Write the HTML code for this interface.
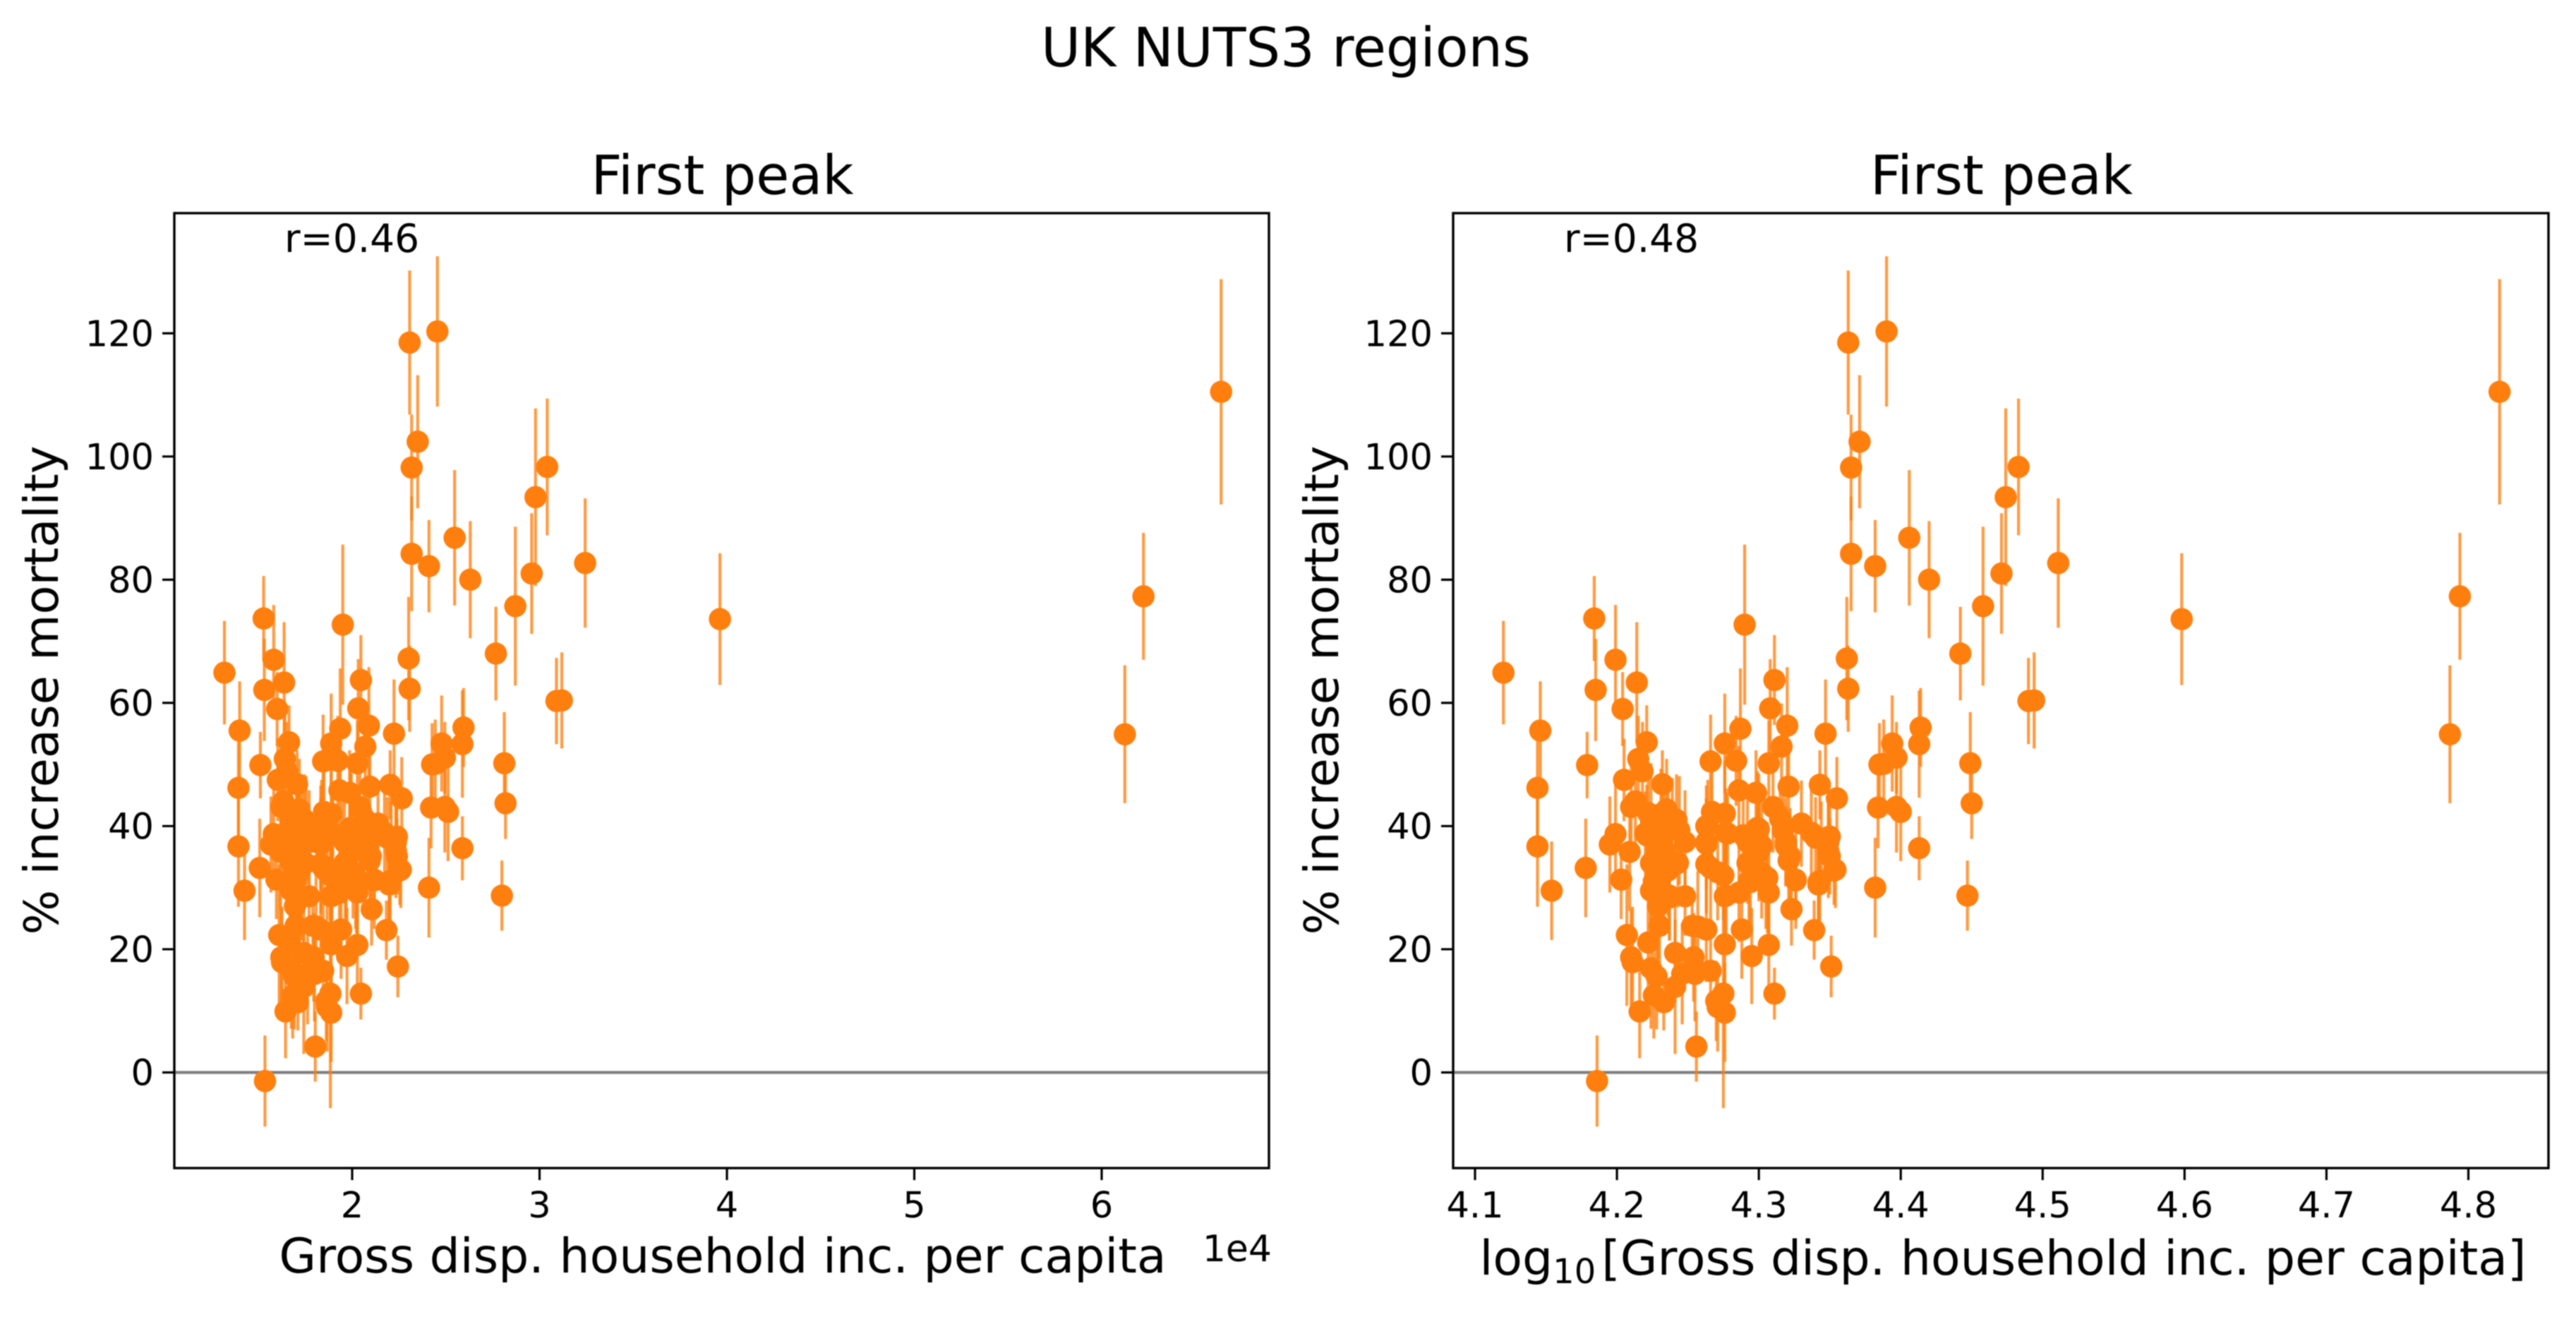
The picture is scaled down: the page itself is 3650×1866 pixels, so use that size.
<!DOCTYPE html>
<html lang="en">
<head>
<meta charset="utf-8">
<title>UK NUTS3 regions</title>
<style>
  html, body { margin: 0; padding: 0; background: #fff; }
  #figure { display: block; width: 3650px; height: 1866px; }
  text { font-family: "DejaVu Sans", "Liberation Sans", sans-serif; fill: #000; }
  .soft { filter: blur(0.9px); }
</style>
</head>
<body>
<svg id="figure" xmlns="http://www.w3.org/2000/svg" width="3650" height="1866" viewBox="0 0 3650 1866">
  <rect x="0" y="0" width="3650" height="1866" fill="#ffffff"/>
  <g class="soft">
    <text x="1822" y="94" font-size="76.5" text-anchor="middle">UK NUTS3 regions</text>
    <g id="panel-left"></g>
    <g id="panel-right"></g>
    <text x="1024" y="1803" font-size="68" text-anchor="middle">Gross disp. household inc. per capita</text>
    <text x="1802" y="1787" font-size="52" text-anchor="end">1e4</text>
    <text x="2838" y="1806" font-size="68" text-anchor="middle">log<tspan font-size="48" dy="12">10</tspan><tspan dy="-12" dx="8">[Gross disp. household inc. per capita]</tspan></text>
  </g>
</svg>
<script>
// Log10 of gross disposable household income per capita
const logIncome = [
  4.120,4.184,4.199,4.185,4.214,4.204,4.146,4.144,4.179,4.221,
  4.215,4.218,4.232,4.205,4.290,4.311,4.308,4.287,4.320,4.316,
  4.266,4.276,4.284,4.307,4.286,4.298,4.321,4.310,4.330,4.267,
  4.264,4.276,4.277,4.300,4.289,4.199,4.195,4.209,4.144,4.154,
  4.178,4.203,4.207,4.210,4.211,4.222,4.224,4.228,4.233,4.226,
  4.216,4.186,4.256,4.230,4.241,4.254,4.241,4.246,4.255,4.266,
  4.257,4.263,4.253,4.276,4.288,4.295,4.307,4.311,4.275,4.270,
  4.271,4.276,4.323,4.339,4.326,4.307,4.305,4.276,4.286,4.294,
  4.266,4.275,4.224,4.237,4.248,4.231,4.229,4.236,4.248,4.263,
  4.263,4.221,4.233,4.239,4.224,4.236,4.244,4.292,4.299,4.300,
  4.292,4.302,4.319,4.322,4.317,4.340,4.342,4.353,4.350,4.349,
  4.351,4.342,4.337,4.344,4.382,4.447,4.413,4.420,4.382,4.471,
  4.511,4.458,4.442,4.362,4.363,4.347,4.343,4.355,4.490,4.494,
  4.449,4.450,4.394,4.385,4.397,4.414,4.413,4.384,4.397,4.400,
  4.388,4.363,4.390,4.371,4.365,4.365,4.406,4.822,4.794,4.787,
  4.598,4.474,4.483,4.210,4.213,4.222,4.235,4.242,4.231,4.220,
  4.233,4.231,4.237,4.263,4.278,4.263,4.271,4.277,4.293,4.299,
  4.302,4.306,4.319,4.321,4.350,4.349,4.354,4.343,4.326,4.315,
  4.228,4.224,4.234,4.226,4.229,4.243
];
// Percent increase in mortality
const mortality = [
  64.9,73.7,67.0,62.1,63.3,59.0,55.5,46.2,49.9,53.6,
  50.9,48.9,46.8,47.5,72.7,63.7,59.1,55.8,56.3,52.9,
  50.5,53.4,50.6,50.2,45.8,45.4,46.4,43.1,40.4,42.3,
  40.0,42.0,38.9,39.5,38.5,38.7,37.0,35.8,36.7,29.5,
  33.2,31.3,22.3,18.7,17.9,21.1,16.9,15.6,11.4,12.5,
  9.9,-1.4,4.2,23.8,19.4,18.7,13.9,16.0,16.0,16.5,
  23.7,23.2,23.8,20.8,23.2,18.9,20.7,12.8,12.8,11.6,
  10.6,9.7,26.5,23.1,31.2,29.2,31.7,28.6,29.2,30.9,
  33.2,32.0,29.5,28.4,28.6,31.7,33.2,32.8,37.4,37.4,
  40.0,38.5,38.5,40.0,40.8,41.2,39.3,37.4,39.7,35.8,
  34.0,32.4,37.4,35.1,39.3,38.1,30.9,32.8,35.1,37.4,
  17.2,30.5,38.9,38.0,30.0,28.7,36.4,80.0,82.2,81.0,
  82.7,75.7,68.0,67.2,62.3,55.0,46.7,44.5,60.3,60.4,
  50.2,43.7,53.4,50.0,51.1,56.0,53.3,43.0,43.1,42.3,
  50.1,118.5,120.3,102.4,98.2,84.2,86.8,110.5,77.3,54.9,
  73.6,93.4,98.3,43.1,44.0,42.1,42.7,41.0,40.3,38.8,
  32.5,34.4,28.7,37.1,38.8,33.8,32.5,28.7,31.1,39.3,
  36.8,31.6,36.8,34.4,38.3,35.9,32.9,31.1,31.3,41.2,
  36.0,34.0,36.0,31.0,27.0,34.0
];
// Half-length of the error bar on each point
const mortalityError = [
  8.4,6.9,8.9,8.3,9.8,6.0,8.0,9.0,5.4,6.0,
  7.0,8.0,5.5,6.7,13.0,7.3,8.0,9.8,9.5,7.0,
  7.6,8.1,7.3,7.0,7.2,6.9,6.5,7.4,7.0,8.2,
  7.5,8.6,7.2,9.0,8.5,8.0,7.8,9.5,9.8,8.0,
  8.0,6.4,11.5,7.8,9.0,8.2,9.8,8.6,4.6,7.0,
  7.6,7.4,5.7,7.5,8.0,7.2,10.9,8.2,7.7,6.8,
  9.0,8.5,6.2,9.2,8.0,7.8,7.0,4.2,18.6,6.5,
  7.2,8.0,5.9,4.8,6.5,7.5,8.4,9.0,8.0,6.8,
  9.5,7.2,8.8,7.0,6.4,8.0,9.0,7.5,8.4,7.0,
  6.6,8.2,7.4,7.8,9.4,6.8,8.8,7.6,9.2,8.0,
  6.6,7.4,7.2,7.8,6.4,6.6,8.4,5.6,6.2,7.4,
  5.0,7.0,8.8,6.0,8.1,5.7,5.2,9.5,7.5,9.8,
  10.5,12.9,7.6,10.0,7.0,8.8,5.6,6.7,7.0,7.8,
  8.3,5.8,7.8,6.7,5.8,6.4,8.7,6.6,7.4,8.0,
  7.2,11.7,12.2,10.8,8.6,9.3,11.0,18.3,10.3,11.2,
  10.7,14.4,11.1,7.6,8.4,7.0,8.2,7.4,9.0,6.8,
  8.6,7.6,7.2,7.4,6.6,8.0,7.8,9.4,8.2,6.8,
  7.4,9.0,6.4,7.2,6.8,7.6,6.2,7.0,8.0,6.0,
  7.6,8.2,6.8,7.4,8.6,7.2
];
const yTicks = [0, 20, 40, 60, 80, 100, 120];
const leftXTicks = [2, 3, 4, 5, 6];
const rightXTicks = [4.1, 4.2, 4.3, 4.4, 4.5, 4.6, 4.7, 4.8];
const correlationLabels = ["r=0.46", "r=0.48"];

const NS = "http://www.w3.org/2000/svg";
const plotTop = 302, plotBottom = 1655;

function yScale(v) { return 1519.5 - 8.727 * v; }
function leftXScale(v) { return 499 + 265.5 * (v - 2); }
function rightXScale(v) { return 2090 + 2010.7 * (v - 4.1); }

function make(parent, tag, attrs, content) {
  const el = document.createElementNS(NS, tag);
  for (const k in attrs) el.setAttribute(k, attrs[k]);
  if (content !== undefined) el.textContent = content;
  parent.appendChild(el);
  return el;
}

function drawPanel(group, plotLeft, plotRight, xOf, xValues, xTicks, tickText, yTitleX, corrText, corrX) {
  const bg = make(group, "rect", { x: plotLeft, y: plotTop, width: plotRight - plotLeft, height: plotBottom - plotTop, fill: "#fff" });
  
  

  const zero = make(group, "line", { x1: plotLeft, x2: plotRight, y1: yScale(0), y2: yScale(0), stroke: "#808080", "stroke-width": 4.2 });
  
  

  for (let i = 0; i < mortality.length; i++) {
    const x = xOf(xValues[i]);
    const bar = make(group, "line", { x1: x, x2: x, y1: yScale(mortality[i] + mortalityError[i]), y2: yScale(mortality[i] - mortalityError[i]), stroke: "#ff7f0e", "stroke-opacity": 0.78, "stroke-width": 4.2 });
    
    
    const dot = make(group, "circle", { cx: x, cy: yScale(mortality[i]), r: 15.8, fill: "#ff7f0e" });
    
    
  }

  yTicks.forEach(function (t) {
    const tick = make(group, "line", { x1: plotLeft - 17, x2: plotLeft, y1: yScale(t), y2: yScale(t), stroke: "#000", "stroke-width": 3.2 });
    
    
    const lab = make(group, "text", { x: plotLeft - 29, y: yScale(t) + 18, "font-size": 51, "text-anchor": "end" }, String(t));
    
    
  });

  xTicks.forEach(function (t) {
    const tick = make(group, "line", { x1: xOf(t), x2: xOf(t), y1: plotBottom, y2: plotBottom + 17, stroke: "#000", "stroke-width": 3.2 });
    
    
    const lab = make(group, "text", { x: xOf(t), y: 1725, "font-size": 51, "text-anchor": "middle" }, tickText(t));
    
    
  });

  const frame = make(group, "rect", { x: plotLeft, y: plotTop, width: plotRight - plotLeft, height: plotBottom - plotTop, fill: "none", stroke: "#000", "stroke-width": 3.4 });
  
  

  const title = make(group, "text", { x: (plotLeft + plotRight) / 2 + 1, y: 275, "font-size": 76.5, "text-anchor": "middle" }, "First peak");
  
  

  const yTitle = make(group, "text", { transform: "translate(" + yTitleX + " 978) rotate(-90)", x: 0, y: 0, "font-size": 67, "text-anchor": "middle" }, "% increase mortality");
  
  

  const corr = make(group, "text", { x: corrX, y: 357, "font-size": 55 }, corrText);
  
  
}

const incomeTenThousands = logIncome.map(function (v) { return Math.pow(10, v) / 10000; });

drawPanel(document.getElementById("panel-left"), 247, 1798, leftXScale, incomeTenThousands, leftXTicks,
  function (t) { return String(t); }, 82, correlationLabels[0], 403);
drawPanel(document.getElementById("panel-right"), 2059, 3611, rightXScale, logIncome, rightXTicks,
  function (t) { return t.toFixed(1); }, 1896, correlationLabels[1], 2216);
</script>
</body>
</html>
